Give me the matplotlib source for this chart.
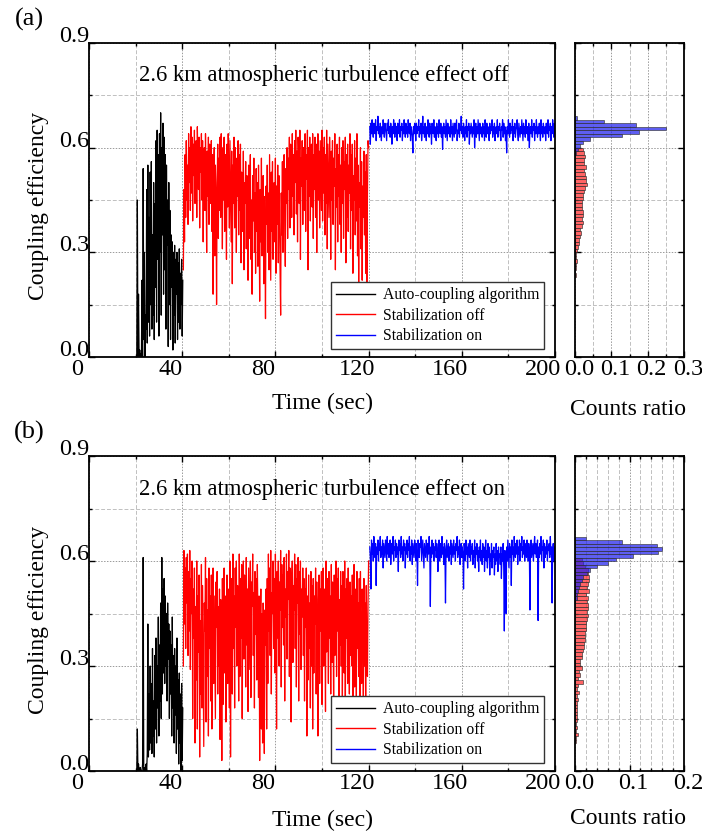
import numpy as np
import matplotlib
matplotlib.use('Agg')
import matplotlib.pyplot as plt
from matplotlib.ticker import MultipleLocator, FormatStrFormatter
import matplotlib.transforms as mtrans

plt.rcParams['font.family'] = ['Liberation Serif', 'DejaVu Serif']

# ---------------- data ----------------
t_black_start, t_black_step = 20.5, 0.25
t_red_start, t_red_step = 40.5, 0.25
t_blue_start, t_blue_step = 120.5, 0.25

black_a = [0.0, 0.45, 0.0, 0.18, 0.0, 0.02, 0.0, 0.01,
           0.0, 0.22, 0.0, 0.54, 0.05, 0.30, 0.0, 0.12,
           0.08, 0.48, 0.04, 0.55, 0.10, 0.40, 0.06, 0.53,
           0.15, 0.56, 0.08, 0.35, 0.12, 0.50, 0.05, 0.44,
           0.20, 0.62, 0.10, 0.65, 0.28, 0.58, 0.06, 0.64,
           0.30, 0.70, 0.12, 0.60, 0.35, 0.67, 0.18, 0.63,
           0.25, 0.58, 0.08, 0.55, 0.32, 0.45, 0.03, 0.50,
           0.15, 0.42, 0.05, 0.35, 0.20, 0.33, 0.02, 0.30,
           0.12, 0.32, 0.04, 0.28, 0.18, 0.30, 0.05, 0.27,
           0.10, 0.31, 0.08, 0.24, 0.15, 0.28, 0.06, 0.22]

red_a = [0.25, 0.48, 0.33, 0.58, 0.40, 0.62, 0.45, 0.55, 0.38, 0.64, 0.50, 0.60, 0.42, 0.66, 0.47, 0.63,
         0.39, 0.61, 0.52, 0.65, 0.44, 0.58, 0.62, 0.40, 0.66, 0.55, 0.48, 0.63, 0.37, 0.60, 0.53, 0.64,
         0.45, 0.62, 0.33, 0.57, 0.60, 0.42, 0.64, 0.50, 0.30, 0.59, 0.46, 0.63, 0.38, 0.61, 0.55, 0.44,
         0.62, 0.36, 0.58, 0.18, 0.52, 0.60, 0.29, 0.55, 0.47, 0.15, 0.50, 0.61, 0.34, 0.57, 0.42, 0.63,
         0.40, 0.64, 0.52, 0.31, 0.60, 0.45, 0.63, 0.36, 0.58, 0.49, 0.28, 0.61, 0.43, 0.64, 0.55, 0.37,
         0.62, 0.48, 0.33, 0.59, 0.21, 0.55, 0.44, 0.63, 0.37, 0.60, 0.51, 0.30, 0.57, 0.46, 0.62, 0.35,
         0.58, 0.42, 0.61, 0.27, 0.53, 0.47, 0.36, 0.59, 0.25, 0.50, 0.44, 0.56, 0.31, 0.52, 0.40, 0.22,
         0.55, 0.34, 0.49, 0.58, 0.28, 0.45, 0.18, 0.52, 0.39, 0.57, 0.30, 0.47, 0.24, 0.54, 0.36, 0.50,
         0.26, 0.55, 0.41, 0.16, 0.48, 0.33, 0.57, 0.29, 0.44, 0.52, 0.21, 0.46, 0.35, 0.11, 0.49, 0.38,
         0.55, 0.30, 0.47, 0.25, 0.58, 0.40, 0.22, 0.53, 0.36, 0.56, 0.28, 0.45, 0.50, 0.33, 0.57, 0.24,
         0.49, 0.38, 0.55, 0.27, 0.52, 0.42, 0.25, 0.12, 0.47, 0.35, 0.56, 0.30, 0.50, 0.58, 0.39, 0.26,
         0.54, 0.44, 0.60, 0.34, 0.57, 0.48, 0.63, 0.37, 0.61, 0.52, 0.40, 0.64, 0.46, 0.58, 0.35, 0.62,
         0.50, 0.65, 0.41, 0.59, 0.33, 0.63, 0.55, 0.44, 0.65, 0.28, 0.57, 0.49, 0.62, 0.38, 0.60, 0.53,
         0.42, 0.64, 0.36, 0.58, 0.51, 0.65, 0.25, 0.60, 0.46, 0.63, 0.39, 0.56, 0.61, 0.43, 0.64, 0.34,
         0.58, 0.48, 0.63, 0.40, 0.61, 0.30, 0.55, 0.64, 0.45, 0.59, 0.37, 0.62, 0.52, 0.42, 0.65, 0.39,
         0.60, 0.47, 0.63, 0.35, 0.58, 0.44, 0.65, 0.31, 0.61, 0.50, 0.40, 0.63, 0.54, 0.28, 0.59, 0.45,
         0.62, 0.38, 0.57, 0.49, 0.64, 0.25, 0.54, 0.43, 0.61, 0.33, 0.58, 0.46, 0.63, 0.38, 0.55, 0.30,
         0.60, 0.44, 0.62, 0.34, 0.56, 0.48, 0.63, 0.27, 0.58, 0.40, 0.61, 0.36, 0.55, 0.47, 0.64, 0.31,
         0.58, 0.42, 0.61, 0.24, 0.52, 0.45, 0.62, 0.35, 0.57, 0.39, 0.64, 0.29, 0.55, 0.21, 0.50, 0.43,
         0.60, 0.31, 0.56, 0.22, 0.49, 0.40, 0.59, 0.35, 0.53, 0.24, 0.58, 0.21, 0.46, 0.62, 0.60]

blue_a = [0.66, 0.61, 0.67, 0.64, 0.68, 0.65, 0.63, 0.67, 0.66, 0.64, 0.68, 0.62, 0.66, 0.65, 0.69, 0.64,
          0.66, 0.63, 0.67, 0.65, 0.62, 0.66, 0.64, 0.68, 0.65, 0.63, 0.67, 0.66, 0.64, 0.62, 0.67, 0.65,
          0.68, 0.64, 0.66, 0.63, 0.67, 0.65, 0.61, 0.66, 0.64, 0.68, 0.65, 0.63, 0.67, 0.64, 0.66, 0.62,
          0.67, 0.65, 0.64, 0.68, 0.63, 0.66, 0.65, 0.67, 0.62, 0.66, 0.64, 0.68, 0.65, 0.63, 0.67, 0.64,
          0.66, 0.63, 0.68, 0.65, 0.64, 0.67, 0.62, 0.66, 0.65, 0.63, 0.585, 0.66, 0.64, 0.67, 0.65, 0.62,
          0.67, 0.64, 0.66, 0.65, 0.68, 0.63, 0.66, 0.64, 0.67, 0.62, 0.65, 0.69, 0.64, 0.66, 0.63, 0.67,
          0.65, 0.62, 0.66, 0.64, 0.68, 0.65, 0.63, 0.67, 0.64, 0.66, 0.61, 0.67, 0.65, 0.64, 0.68, 0.63,
          0.66, 0.65, 0.62, 0.67, 0.64, 0.66, 0.63, 0.68, 0.65, 0.64, 0.67, 0.63, 0.66, 0.595, 0.65, 0.67,
          0.64, 0.66, 0.63, 0.68, 0.65, 0.62, 0.67, 0.64, 0.66, 0.65, 0.63, 0.68, 0.64, 0.66, 0.62, 0.67,
          0.65, 0.63, 0.67, 0.64, 0.66, 0.68, 0.62, 0.65, 0.64, 0.67, 0.63, 0.66, 0.65, 0.69, 0.64, 0.66,
          0.63, 0.67, 0.65, 0.62, 0.66, 0.64, 0.68, 0.63, 0.66, 0.65, 0.67, 0.61, 0.66, 0.64, 0.67, 0.65,
          0.63, 0.66, 0.64, 0.68, 0.60, 0.65, 0.67, 0.63, 0.66, 0.64, 0.68, 0.65, 0.62, 0.67, 0.64, 0.66,
          0.65, 0.63, 0.67, 0.64, 0.66, 0.62, 0.68, 0.65, 0.63, 0.67, 0.64, 0.66, 0.65, 0.62, 0.67, 0.64,
          0.66, 0.65, 0.68, 0.63, 0.66, 0.64, 0.67, 0.62, 0.65, 0.66, 0.64, 0.68, 0.63, 0.66, 0.65, 0.67,
          0.64, 0.62, 0.66, 0.65, 0.68, 0.63, 0.67, 0.64, 0.66, 0.62, 0.65, 0.585, 0.66, 0.64, 0.68, 0.65,
          0.63, 0.67, 0.64, 0.66, 0.65, 0.68, 0.62, 0.66, 0.64, 0.67, 0.63, 0.65, 0.66, 0.68, 0.64, 0.62,
          0.67, 0.65, 0.63, 0.66, 0.64, 0.68, 0.65, 0.62, 0.67, 0.64, 0.66, 0.63, 0.68, 0.65, 0.64, 0.66,
          0.62, 0.67, 0.60, 0.65, 0.66, 0.64, 0.68, 0.63, 0.66, 0.65, 0.67, 0.62, 0.66, 0.64, 0.68, 0.65,
          0.63, 0.66, 0.64, 0.67, 0.65, 0.62, 0.68, 0.64, 0.66, 0.63, 0.67, 0.65, 0.64, 0.66, 0.62, 0.67,
          0.65, 0.64, 0.68, 0.63, 0.66, 0.65, 0.67, 0.62, 0.66, 0.64, 0.68, 0.65, 0.63, 0.67, 0.64, 0.66]

black_b = [0.0, 0.12, 0.0, 0.02, 0.0, 0.0, 0.01, 0.0,
           0.0, 0.0, 0.02, 0.61, 0.0, 0.01, 0.0, 0.0,
           0.02, 0.0, 0.05, 0.42, 0.04, 0.22, 0.06, 0.30,
           0.08, 0.25, 0.05, 0.35, 0.10, 0.20, 0.04, 0.33,
           0.12, 0.38, 0.08, 0.30, 0.18, 0.44, 0.10, 0.36,
           0.20, 0.48, 0.15, 0.61, 0.22, 0.52, 0.28, 0.55,
           0.25, 0.50, 0.30, 0.45, 0.20, 0.48, 0.32, 0.42,
           0.15, 0.40, 0.22, 0.36, 0.10, 0.44, 0.18, 0.33,
           0.08, 0.35, 0.16, 0.30, 0.05, 0.38, 0.12, 0.26,
           0.02, 0.28, 0.08, 0.22, 0.0, 0.25, 0.03, 0.18]

red_b = [0.30, 0.63, 0.42, 0.58, 0.35, 0.61, 0.48, 0.62, 0.33, 0.57, 0.40, 0.63, 0.29, 0.55, 0.45, 0.60,
         0.15, 0.52, 0.38, 0.58, 0.08, 0.47, 0.26, 0.60, 0.12, 0.50, 0.34, 0.56, 0.04, 0.43, 0.22, 0.59,
         0.18, 0.53, 0.30, 0.07, 0.48, 0.40, 0.61, 0.14, 0.55, 0.27, 0.46, 0.10, 0.58, 0.35, 0.50, 0.20,
         0.56, 0.12, 0.44, 0.58, 0.25, 0.50, 0.33, 0.15, 0.54, 0.41, 0.57, 0.22, 0.47, 0.30, 0.52, 0.09,
         0.49, 0.36, 0.03, 0.55, 0.19, 0.46, 0.58, 0.28, 0.50, 0.14, 0.43, 0.56, 0.25, 0.52, 0.38, 0.18,
         0.60, 0.04, 0.47, 0.55, 0.22, 0.62, 0.35, 0.50, 0.18, 0.58, 0.41, 0.60, 0.30, 0.53, 0.44, 0.20,
         0.62, 0.27, 0.55, 0.38, 0.59, 0.15, 0.48, 0.60, 0.32, 0.56, 0.45, 0.24, 0.61, 0.36, 0.52, 0.17,
         0.58, 0.42, 0.29, 0.60, 0.21, 0.54, 0.47, 0.62, 0.33, 0.51, 0.18, 0.57, 0.39, 0.55, 0.26, 0.59,
         0.44, 0.21, 0.50, 0.03, 0.40, 0.52, 0.12, 0.45, 0.08, 0.48, 0.30, 0.05, 0.46, 0.36, 0.52, 0.12,
         0.55, 0.25, 0.62, 0.40, 0.58, 0.33, 0.63, 0.22, 0.51, 0.45, 0.60, 0.35, 0.55, 0.28, 0.62, 0.48,
         0.12, 0.57, 0.38, 0.60, 0.30, 0.54, 0.46, 0.63, 0.24, 0.59, 0.41, 0.56, 0.36, 0.61, 0.20, 0.52,
         0.44, 0.62, 0.32, 0.57, 0.49, 0.63, 0.27, 0.58, 0.42, 0.14, 0.55, 0.60, 0.31, 0.53, 0.46, 0.62,
         0.35, 0.59, 0.24, 0.55, 0.48, 0.61, 0.20, 0.57, 0.39, 0.60, 0.29, 0.52, 0.44, 0.58, 0.33, 0.55,
         0.20, 0.52, 0.41, 0.58, 0.10, 0.50, 0.26, 0.56, 0.35, 0.48, 0.18, 0.57, 0.30, 0.53, 0.12, 0.55,
         0.28, 0.50, 0.42, 0.58, 0.22, 0.54, 0.36, 0.10, 0.49, 0.56, 0.25, 0.52, 0.40, 0.57, 0.19, 0.53,
         0.58, 0.30, 0.52, 0.44, 0.17, 0.60, 0.34, 0.55, 0.47, 0.25, 0.57, 0.38, 0.50, 0.22, 0.59, 0.31,
         0.54, 0.43, 0.19, 0.56, 0.33, 0.51, 0.60, 0.27, 0.55, 0.40, 0.58, 0.21, 0.49, 0.36, 0.57, 0.30,
         0.53, 0.20, 0.57, 0.44, 0.28, 0.60, 0.15, 0.52, 0.38, 0.55, 0.25, 0.58, 0.42, 0.22, 0.54, 0.33,
         0.50, 0.30, 0.56, 0.18, 0.47, 0.59, 0.24, 0.52, 0.40, 0.21, 0.57, 0.35, 0.48, 0.27, 0.55, 0.21,
         0.57, 0.38, 0.25, 0.52, 0.44, 0.18, 0.55, 0.30, 0.48, 0.21, 0.53, 0.36, 0.27, 0.48, 0.60]

blue_b = [0.64, 0.61, 0.52, 0.66, 0.62, 0.65, 0.60, 0.67, 0.63, 0.61, 0.65, 0.53, 0.64, 0.62, 0.66, 0.60,
          0.65, 0.63, 0.67, 0.61, 0.64, 0.62, 0.66, 0.58, 0.65, 0.63, 0.61, 0.66, 0.64, 0.60, 0.67, 0.62,
          0.65, 0.61, 0.64, 0.66, 0.59, 0.63, 0.65, 0.62, 0.67, 0.60, 0.64, 0.63, 0.66, 0.61, 0.65, 0.62,
          0.64, 0.57, 0.66, 0.63, 0.65, 0.61, 0.67, 0.62, 0.64, 0.60, 0.66, 0.63, 0.65, 0.58, 0.64, 0.62,
          0.66, 0.61, 0.65, 0.63, 0.67, 0.60, 0.64, 0.62, 0.66, 0.59, 0.65, 0.63, 0.61, 0.66, 0.64, 0.60,
          0.65, 0.62, 0.53, 0.66, 0.63, 0.61, 0.65, 0.64, 0.67, 0.60, 0.63, 0.66, 0.62, 0.58, 0.65, 0.63,
          0.61, 0.66, 0.64, 0.60, 0.65, 0.62, 0.67, 0.63, 0.47, 0.64, 0.61, 0.66, 0.62, 0.65, 0.60, 0.64,
          0.63, 0.66, 0.61, 0.65, 0.62, 0.57, 0.64, 0.66, 0.60, 0.63, 0.65, 0.61, 0.67, 0.62, 0.64, 0.59,
          0.65, 0.63, 0.48, 0.64, 0.66, 0.61, 0.63, 0.65, 0.60, 0.64, 0.62, 0.66, 0.59, 0.65, 0.63, 0.61,
          0.66, 0.62, 0.64, 0.60, 0.65, 0.63, 0.67, 0.61, 0.64, 0.62, 0.66, 0.59, 0.63, 0.65, 0.61, 0.64,
          0.62, 0.52, 0.65, 0.63, 0.60, 0.66, 0.62, 0.64, 0.58, 0.65, 0.63, 0.61, 0.66, 0.60, 0.64, 0.62,
          0.65, 0.59, 0.63, 0.61, 0.66, 0.58, 0.64, 0.62, 0.65, 0.60, 0.63, 0.57, 0.64, 0.61, 0.66, 0.60,
          0.63, 0.59, 0.65, 0.61, 0.64, 0.57, 0.62, 0.66, 0.60, 0.63, 0.58, 0.65, 0.61, 0.64, 0.56, 0.62,
          0.60, 0.65, 0.58, 0.63, 0.61, 0.64, 0.56, 0.62, 0.59, 0.65, 0.60, 0.63, 0.57, 0.64, 0.61, 0.62,
          0.59, 0.64, 0.55, 0.62, 0.60, 0.65, 0.58, 0.40, 0.63, 0.61, 0.45, 0.64, 0.60, 0.66, 0.62, 0.58,
          0.65, 0.61, 0.64, 0.53, 0.66, 0.62, 0.64, 0.60, 0.67, 0.63, 0.61, 0.65, 0.62, 0.66, 0.59, 0.64,
          0.62, 0.66, 0.60, 0.65, 0.63, 0.67, 0.61, 0.64, 0.62, 0.66, 0.60, 0.65, 0.63, 0.61, 0.66, 0.64,
          0.60, 0.65, 0.62, 0.46, 0.64, 0.66, 0.61, 0.63, 0.65, 0.60, 0.64, 0.67, 0.62, 0.65, 0.61, 0.63,
          0.66, 0.43, 0.64, 0.61, 0.65, 0.62, 0.67, 0.60, 0.64, 0.63, 0.66, 0.58, 0.65, 0.61, 0.64, 0.62,
          0.66, 0.60, 0.64, 0.63, 0.65, 0.61, 0.67, 0.62, 0.64, 0.48, 0.63, 0.65, 0.60, 0.64, 0.62, 0.66]

# histograms: top bin lower edge, bin width 0.01, ratios listed from top bin downwards
bin_width = 0.01
hist_a_red_top = 0.59
hist_a_red = [0.022, 0.026, 0.027, 0.025, 0.024, 0.030, 0.026, 0.028, 0.031, 0.030,
              0.032, 0.028, 0.025, 0.022, 0.021, 0.020, 0.019, 0.018, 0.022, 0.021,
              0.019, 0.021, 0.018, 0.015, 0.017, 0.013, 0.011, 0.010, 0.008, 0.006,
              0.004, 0.003, 0.005, 0.002, 0.004, 0.001, 0.002]
hist_a_blue_top = 0.68
hist_a_blue = [0.005, 0.079, 0.168, 0.251, 0.177, 0.128, 0.041, 0.021, 0.014, 0.008, 0.004]

hist_b_red_top = 0.60
hist_b_red = [0.012, 0.015, 0.018, 0.024, 0.023, 0.026, 0.025, 0.024, 0.022, 0.025,
              0.021, 0.023, 0.022, 0.024, 0.023, 0.022, 0.023, 0.022, 0.021, 0.020,
              0.021, 0.019, 0.018, 0.019, 0.017, 0.016, 0.015, 0.013, 0.012, 0.010,
              0.009, 0.013, 0.008, 0.010, 0.006, 0.014, 0.005, 0.004, 0.007, 0.004,
              0.005, 0.003, 0.004, 0.003, 0.004, 0.003, 0.003, 0.002, 0.003, 0.002,
              0.006, 0.001, 0.001]
hist_b_blue_top = 0.66
hist_b_blue = [0.020, 0.087, 0.151, 0.159, 0.153, 0.107, 0.076, 0.061, 0.040, 0.028,
               0.022, 0.015, 0.012, 0.010, 0.008, 0.005, 0.004, 0.003]

labels = ['Auto-coupling algorithm', 'Stabilization off', 'Stabilization on']
titles = ['2.6 km atmospheric turbulence effect off', '2.6 km atmospheric turbulence effect on']
panel_tags = ['(a)', '(b)']

# ---------------- figure ----------------
W, H = 702, 834
fig = plt.figure(figsize=(W / 100, H / 100), dpi=100)

def frac(l, t, r, b):
    return [l / W, 1 - b / H, (r - l) / W, (b - t) / H]

TICK_FS = 17.5
LABEL_FS = 17
TITLE_FS = 16.3

def px_offset(dx, dy):
    return mtrans.ScaledTranslation(dx / 100, dy / 100, fig.dpi_scale_trans)

def style_axes(ax):
    for s in ax.spines.values():
        s.set_linewidth(1.3)
    ax.tick_params(which='both', direction='in', top=True, right=True,
                   labelsize=TICK_FS, width=1.0)
    ax.tick_params(which='major', length=4, pad=0)
    ax.tick_params(which='minor', length=2)
    ax.set_ylim(0, 0.9)
    ax.yaxis.set_major_locator(MultipleLocator(0.3))
    ax.yaxis.set_minor_locator(MultipleLocator(0.15))
    ax.yaxis.set_major_formatter(FormatStrFormatter('%.1f'))
    ax.grid(True, which='major', color='#9a9a9a', linestyle=(0, (1.5, 1.5)), linewidth=0.7)
    ax.grid(True, which='minor', color='#c0c0c0', linestyle=(0, (4, 2)), linewidth=0.7)
    ax.set_axisbelow(True)

layouts = [
    dict(main=(89, 43, 555, 357), hist=(575, 43, 684, 357)),
    dict(main=(89, 456, 555, 771), hist=(575, 456, 684, 771)),
]
series = [(black_a, red_a, blue_a), (black_b, red_b, blue_b)]
hists = [(hist_a_red_top, hist_a_red, hist_a_blue_top, hist_a_blue, 0.3, 0.05),
         (hist_b_red_top, hist_b_red, hist_b_blue_top, hist_b_blue, 0.2, 0.02)]
counts_label_y = [-0.135, -0.118]
time_label_y = [-0.115, -0.123]

for k in range(2):
    lay = layouts[k]
    ax = fig.add_axes(frac(*lay['main']))
    blk, red, blu = series[k]
    tb = t_black_start + t_black_step * np.arange(len(blk))
    tr = t_red_start + t_red_step * np.arange(len(red))
    tu = t_blue_start + t_blue_step * np.arange(len(blu))
    ax.plot(tb, blk, color='black', lw=0.9, label=labels[0])
    ax.plot(tr, red, color='red', lw=0.9, label=labels[1])
    ax.plot(tu, blu, color='blue', lw=0.9, label=labels[2])
    style_axes(ax)
    ax.set_xlim(0, 200)
    ax.xaxis.set_major_locator(MultipleLocator(40))
    ax.xaxis.set_minor_locator(MultipleLocator(20))
    ax.set_xlabel('Time (sec)', fontsize=LABEL_FS)
    ax.xaxis.set_label_coords(0.5, time_label_y[k])
    ax.set_ylabel('Coupling efficiency', fontsize=LABEL_FS)
    ax.yaxis.set_label_coords(-0.086, 0.48)
    ax.text(0.107, 0.895, titles[k], transform=ax.transAxes, fontsize=TITLE_FS,
            ha='left', va='center')
    leg = ax.legend(loc='lower right', bbox_to_anchor=(0.977, 0.025), fontsize=11.3,
                    frameon=True, fancybox=False, framealpha=1, edgecolor='#333333',
                    handlelength=2.5, labelspacing=0.3, borderpad=0.3,
                    handletextpad=0.5, borderaxespad=0)
    leg.get_frame().set_linewidth(1.0)
    for ln in leg.get_lines():
        ln.set_linewidth(1.0)
    fig.text(29 / W, 1 - (19 + 413 * k) / H, panel_tags[k], fontsize=19,
             ha='center', va='center')
    fig.canvas.draw()
    for lbl in ax.get_xticklabels():
        lbl.set_transform(lbl.get_transform() + px_offset(-12, -2))
    for lbl in ax.get_yticklabels():
        lbl.set_transform(lbl.get_transform() + px_offset(0, 9))

    # histogram
    hr_top, hr, hb_top, hb, xmax, xminor = hists[k]
    axh = fig.add_axes(frac(*lay['hist']))
    yr = hr_top - bin_width * np.arange(len(hr))
    yb = hb_top - bin_width * np.arange(len(hb))
    axh.barh(yr, hr, height=bin_width, align='edge', color='#ff3030', alpha=0.75,
             edgecolor='#303030', linewidth=0.6)
    axh.barh(yb, hb, height=bin_width, align='edge', color='#2020ee', alpha=0.72,
             edgecolor='#303030', linewidth=0.6)
    style_axes(axh)
    axh.set_xlim(0, xmax)
    axh.xaxis.set_major_locator(MultipleLocator(0.1))
    axh.xaxis.set_minor_locator(MultipleLocator(xminor))
    axh.xaxis.set_major_formatter(FormatStrFormatter('%.1f'))
    axh.tick_params(axis='y', labelleft=False)
    axh.set_xlabel('Counts ratio', fontsize=LABEL_FS)
    axh.xaxis.set_label_coords(0.49, counts_label_y[k])
    fig.canvas.draw()
    for lbl in axh.get_xticklabels():
        lbl.set_transform(lbl.get_transform() + px_offset(4, -2))

fig.savefig('out.png', dpi=100)
